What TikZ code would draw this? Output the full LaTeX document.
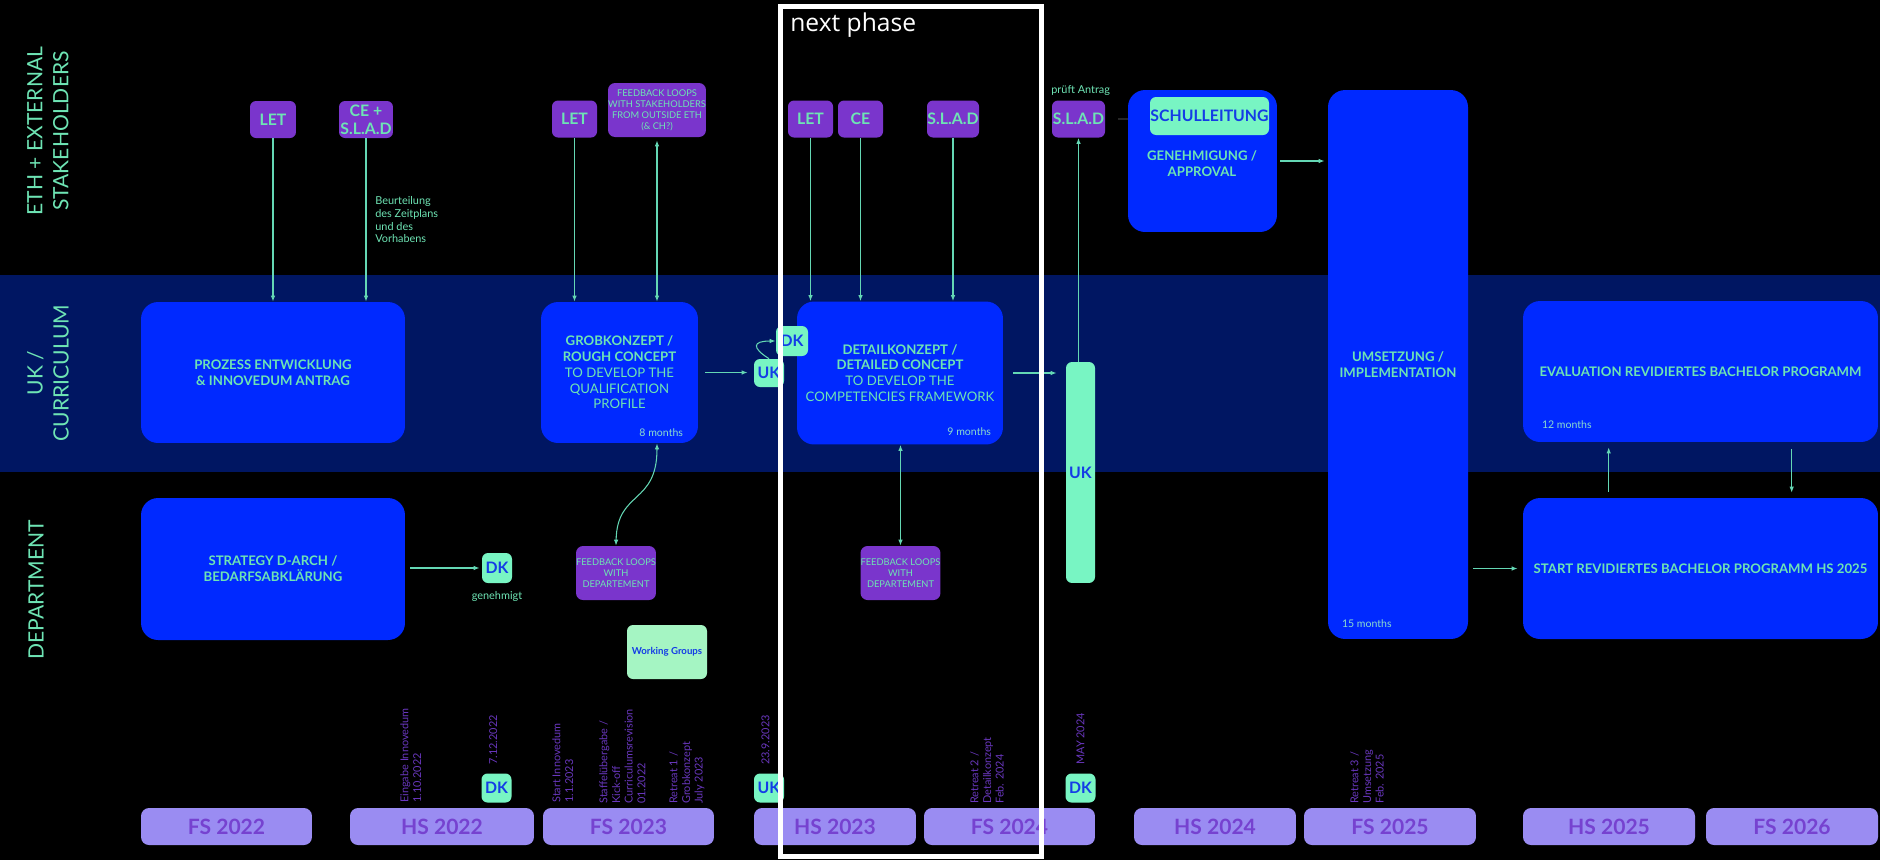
\documentclass[tikz,border=0pt]{standalone}
\usepackage{fontspec}
\setmainfont{Lato}
\newfontfamily\phasefont{Open Sans}
\usetikzlibrary{arrows.meta,calc}

\definecolor{band}{RGB}{0,22,98}
\definecolor{boxblue}{RGB}{0,41,255}
\definecolor{mint}{RGB}{110,228,180}
\definecolor{mintline}{RGB}{100,215,180}
\definecolor{mintfill}{RGB}{120,245,195}
\definecolor{wgfill}{RGB}{165,245,195}
\definecolor{lilac}{RGB}{122,53,204}
\definecolor{lavender}{RGB}{154,140,242}
\definecolor{semtext}{RGB}{118,66,208}
\definecolor{datetext}{RGB}{105,55,190}
\definecolor{inkblue}{RGB}{20,60,230}
\definecolor{monthtext}{RGB}{140,220,205}

\begin{document}
\begin{tikzpicture}[x=0.02cm, y=-0.02cm,
    phasebox/.style={fill=boxblue, rounded corners=0.34cm, text=mint, align=center, inner sep=0pt, font=\fontsize{7.5}{9}\selectfont\bfseries},
    actor/.style={fill=lilac, rounded corners=0.12cm, text=mint, align=center, inner sep=0pt, minimum height=0.74cm, font=\fontsize{9}{10}\selectfont\bfseries},
    loopbox/.style={fill=lilac, rounded corners=0.14cm, text=mint, align=center, inner sep=0pt, minimum height=1.08cm, font=\fontsize{5.3}{6.3}\selectfont},
    gate/.style={fill=mintfill, rounded corners=0.12cm, text=inkblue, inner sep=0pt, minimum width=0.6cm, minimum height=0.58cm, font=\fontsize{9}{10}\selectfont\bfseries},
    sem/.style={fill=lavender, rounded corners=0.16cm, text=semtext, inner sep=0pt, minimum height=0.74cm, font=\fontsize{12}{14}\selectfont\bfseries},
    lane/.style={rotate=90, text=mint, align=center, inner sep=0pt, font=\fontsize{12}{14.8}\selectfont},
    note/.style={text=mint, align=left, inner sep=0pt, font=\fontsize{6.2}{7.3}\selectfont},
    months/.style={text=monthtext, inner sep=0pt, font=\fontsize{6}{7}\selectfont},
    datelabel/.style={rotate=90, anchor=north west, text=datetext, align=left, inner sep=0pt, font=\fontsize{6.2}{7.2}\selectfont},
    flow/.style={draw=mintline, line width=0.6pt, -{Latex[length=0.12cm,width=0.09cm]}},
    twoway/.style={draw=mintline, line width=0.6pt, {Latex[length=0.12cm,width=0.09cm]}-{Latex[length=0.12cm,width=0.09cm]}},
    ]
    % Background and the curriculum lane
    \fill[black] (0,0) rectangle (1880,860);
    \useasboundingbox (0,0) rectangle (1880,860);
    \fill[band] (0,275) rectangle (1880,472);

    % Lane titles
    \node[lane] (laneeth) at (48,131) {ETH + EXTERNAL\\STAKEHOLDERS};
    \node[lane] (laneuk) at (48,373) {UK /\\CURRICULUM};
    \node[lane] (lanedep) at (36,590) {DEPARTMENT};

    % Stakeholders
    \node[actor, minimum width=0.92cm] (letA) at (273,119.5) {LET};
    \node[actor, minimum width=1.08cm] (ceslad) at (366,119.5) {CE +\\S.L.A.D};
    \node[actor, minimum width=0.9cm] (letB) at (574.5,119) {LET};
    \node[loopbox, minimum width=1.96cm] (fbext) at (657,110) {FEEDBACK LOOPS\\WITH STAKEHOLDERS\\FROM OUTSIDE ETH\\(\& CH?)};
    \node[actor, minimum width=0.9cm] (letC) at (810.5,119) {LET};
    \node[actor, minimum width=0.9cm] (ce) at (860.5,119) {CE};
    \node[actor, minimum width=1.04cm] (sladA) at (953,119) {S.L.A.D};
    \node[actor, minimum width=1.06cm] (sladB) at (1078.5,119) {S.L.A.D};
    \node[note, anchor=south west] (pruefung) at (1051,96) {prüft Antrag};
    \node[note, anchor=north west] (beurteilung) at (375,196) {Beurteilung\\des Zeitplans\\und des\\Vorhabens};

    % Approval by the Schulleitung
    \node[phasebox, minimum width=2.98cm, minimum height=2.84cm] (approval) at (1202.5,161) {};
    \draw[gray!30!black, line width=0.6pt, shorten <=0.26cm] (sladB.east) -- (approval.west |- sladB.east);
    \node[gate, fill=mintfill, minimum width=2.38cm, minimum height=0.76cm, font=\fontsize{9}{10}\selectfont\bfseries] (schulleitung) at (1209.5,116) {SCHULLEITUNG};
    \node[text=mint, align=center, inner sep=0pt, font=\fontsize{7.5}{9}\selectfont\bfseries] (approvaltext) at (1202,164) {GENEHMIGUNG /\\APPROVAL};

    % Phases
    \node[phasebox, minimum width=5.28cm, minimum height=2.82cm] (prozess) at (273,372.5) {PROZESS ENTWICKLUNG\\\& INNOVEDUM ANTRAG};
    \node[phasebox, minimum width=5.28cm, minimum height=2.84cm] (strategy) at (273,569) {STRATEGY D-ARCH /\\BEDARFSABKLÄRUNG};
    \node[phasebox, minimum width=3.14cm, minimum height=2.82cm] (grob) at (619.5,372.5) {GROBKONZEPT /\\ROUGH CONCEPT\\\textmd{TO DEVELOP THE}\\\textmd{QUALIFICATION}\\\textmd{PROFILE}};
    \node[phasebox, minimum width=4.12cm, minimum height=2.86cm] (detail) at (900,373) {DETAILKONZEPT /\\DETAILED CONCEPT\\\textmd{TO DEVELOP THE}\\\textmd{COMPETENCIES FRAMEWORK}};
    \node[phasebox, minimum width=2.8cm, minimum height=10.98cm] (umsetzung) at (1398,364.5) {UMSETZUNG /\\IMPLEMENTATION};
    \node[phasebox, minimum width=7.1cm, minimum height=2.82cm] (evaluation) at (1700.5,371.5) {EVALUATION REVIDIERTES BACHELOR PROGRAMM};
    \node[phasebox, minimum width=7.1cm, minimum height=2.82cm] (start) at (1700.5,568.5) {START REVIDIERTES BACHELOR PROGRAMM HS 2025};

    % Durations
    \node[months, anchor=east] (grobmonths) at ($(grob.south east)+(-15,-11)$) {8 months};
    \node[months, anchor=east] (detailmonths) at ($(detail.south east)+(-12,-13)$) {9 months};
    \node[months, anchor=west] (umsetzungmonths) at ($(umsetzung.south west)+(14,-16)$) {15 months};
    \node[months, anchor=west] (evaluationmonths) at ($(evaluation.south west)+(19,-18)$) {12 months};

    % Decisions of UK and DK
    \node[gate, minimum width=0.6cm, minimum height=0.56cm] (ukA) at (769,373) {UK};
    \node[gate, minimum width=0.64cm, minimum height=0.6cm] (dkA) at (792,341) {DK};
    \node[gate, minimum width=0.58cm, minimum height=4.42cm] (ukbar) at (1080.5,472.5) {UK};
    \node[gate, minimum width=0.6cm, minimum height=0.6cm] (dkB) at (497,568) {DK};
    \node[note, anchor=north] (genehmigt) at (497,591) {genehmigt};

    % Department feedback
    \node[loopbox, minimum width=1.6cm] (fbdepA) at (616,573) {FEEDBACK LOOPS\\WITH\\DEPARTEMENT};
    \node[loopbox, minimum width=1.58cm] (fbdepB) at (900.5,573) {FEEDBACK LOOPS\\WITH\\DEPARTEMENT};
    \node[gate, fill=wgfill, minimum width=1.6cm, minimum height=1.08cm, font=\fontsize{5.5}{6.5}\selectfont\bfseries] (working) at (667,652) {Working Groups};

    % Connectors
    \draw[flow] (letA.south) -- (letA.south |- prozess.north);
    \draw[flow] (ceslad.south) -- (ceslad.south |- prozess.north);
    \draw[flow] (letB.south) -- (letB.south |- grob.north);
    \draw[twoway, shorten <=0.06cm] (fbext.south) -- (fbext.south |- grob.north);
    \draw[flow] (letC.south) -- (letC.south |- detail.north);
    \draw[flow] (ce.south) -- (ce.south |- detail.north);
    \draw[flow] (sladA.south) -- (sladA.south |- detail.north);
    \draw[flow] (sladB.south |- ukbar.north) -- (sladB.south);
    \draw[flow, shorten <=0.14cm, shorten >=0.12cm] (grob.east) -- (ukA.west |- grob.east);
    \draw[flow] (ukA.north) .. controls (752,348) and (752,341) .. (dkA.west);
    \draw[flow, shorten <=0.2cm, shorten >=0.18cm] (detail.east) -- (ukbar.west |- detail.east);
    \draw[twoway] (fbext.south |- grob.south) .. controls (657,505) and (617,490) .. (fbdepA.north);
    \draw[twoway] (fbdepB.north |- detail.south) -- (fbdepB.north);
    \draw[flow, shorten <=0.1cm, shorten >=0.04cm] (strategy.east |- dkB.west) -- (dkB.west);
    \draw[flow, shorten <=0.06cm, shorten >=0.06cm] (approval.east) -- (umsetzung.west |- approval.east);
    \draw[flow, shorten <=0.1cm, shorten >=0.1cm] (umsetzung.east |- start.west) -- (start.west);
    \draw[flow, shorten <=0.12cm, shorten >=0.1cm] ($(start.north west)+(86,0)$) -- ($(evaluation.south west)+(86,0)$);
    \draw[flow, shorten <=0.14cm, shorten >=0.1cm] ($(evaluation.south west)+(269,0)$) -- ($(start.north west)+(269,0)$);

    % Milestones above the semesters
    \foreach \cx/\lbl [count=\i] in {496.5/DK, 769/UK, 1080.5/DK}
        \node[gate] (gate\i) at (\cx,788) {\lbl};
    \node[datelabel] (dateA) at (400,803) {Eingabe Innovedum\\1.10.2022};
    \node[datelabel] (dateB) at (489,765) {7.12.2022};
    \node[datelabel] (dateC) at (552,803) {Start Innovedum\\1.1.2023};
    \node[datelabel] (dateD) at (599,804) {Staffelübergabe /\\Kick-off\\Curriculumsrevision\\01.2022};
    \node[datelabel] (dateE) at (669,804) {Retreat 1 /\\Grobkonzept\\July 2023};
    \node[datelabel] (dateF) at (761,765) {23.9.2023};
    \node[datelabel] (dateG) at (970,804) {Retreat 2 /\\Detailkonzept\\Feb. 2024};
    \node[datelabel] (dateH) at (1076,765) {MAY 2024};
    \node[datelabel] (dateI) at (1350,804) {Retreat 3 /\\Umsetzung\\Feb. 2025};

    % Semesters
    \foreach \cx/\w/\yr [count=\i] in {226.5/3.42/FS 2022, 442/3.68/HS 2022, 628.5/3.42/FS 2023,
        835/3.24/HS 2023, 1009.5/3.42/FS 2024, 1215/3.24/HS 2024, 1390/3.44/FS 2025,
        1609/3.44/HS 2025, 1792/3.44/FS 2026}
        \node[sem, minimum width=\w cm] (sem\i) at (\cx,826.5) {\yr};

    % Next phase frame
    \draw[white, line width=0.1cm] (780,6) rectangle (1041,856);
    \node[anchor=north west, inner sep=0pt, text=white, font=\phasefont\fontsize{14}{16}\selectfont] (phaselabel) at (790,12) {next phase};
\end{tikzpicture}
\end{document}
